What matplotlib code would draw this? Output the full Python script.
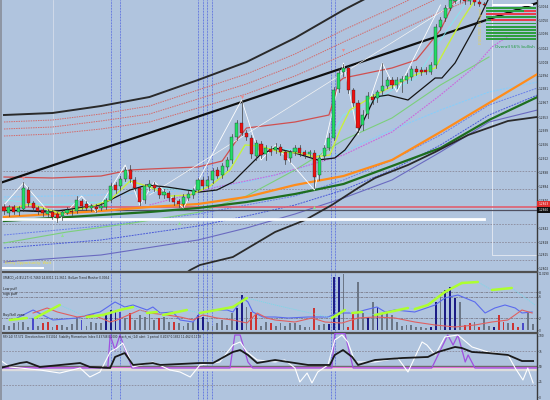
import numpy as np
import matplotlib
matplotlib.use("Agg")
import matplotlib.pyplot as plt
from matplotlib.patches import Rectangle

# ------------------------------------------------------------------ data
# candle prices in 1e-4 units (pips)
bar_open = [12863,12857,12863,12858,12861,12880,12867,12862,12860,12856,12858,12856,12854,12857,12859,12859,12869,12866,12862,12863,
            12862,12863,12870,12885,12884,12891,12900,12890,12882,12870,12883,12885,12882,12875,12877,12872,12869,12866,12872,12875,
            12880,12890,12884,12890,12900,12895,12903,12910,12933,12947,12937,12932,12914,12926,12916,12921,12920,12923,12918,12912,
            12918,12922,12918,12916,12917,12895,12914,12922,12932,12981,12998,13002,12980,12967,12945,12956,12973,12972,12979,12984,
            12990,12985,12988,12990,12993,13001,13000,13000,12998,13005,13043,13052,13062,13069,13075,13072,13069,13072,13068,13066]
bar_close = [12859,12863,12858,12862,12882,12867,12862,12859,12857,12859,12853,12852,12858,12860,12858,12870,12864,12862,12864,12861,
             12864,12870,12884,12880,12891,12900,12891,12882,12868,12884,12886,12882,12875,12878,12872,12868,12866,12873,12876,12880,
             12890,12884,12890,12899,12894,12904,12910,12933,12947,12937,12933,12916,12927,12915,12922,12918,12923,12918,12910,12918,
             12922,12917,12915,12918,12893,12912,12922,12932,12980,12997,13002,12980,12967,12942,12955,12974,12970,12978,12984,12990,
             12985,12990,12991,12994,13001,12998,12998,12998,13005,13043,13050,13062,13070,13075,13072,13069,13072,13068,13066,13065]
bar_high = [12866,12865,12865,12864,12888,12883,12869,12864,12862,12861,12860,12858,12860,12863,12861,12874,12871,12869,12866,12866,
            12867,12872,12887,12888,12894,12903,12905,12893,12884,12886,12890,12888,12884,12881,12879,12875,12871,12876,12879,12882,
            12892,12893,12894,12902,12903,12907,12913,12936,12950,12970,12940,12935,12930,12929,12925,12924,12927,12926,12920,12920,
            12925,12925,12920,12920,12920,12915,12925,12937,12983,13002,13006,13004,12982,12970,12960,12978,12976,12980,13007,12993,
            12993,12993,12994,12997,13004,13004,13003,13003,13008,13046,13053,13065,13073,13078,13078,13075,13074,13074,13070,13068]
bar_low = [12856,12854,12856,12855,12859,12864,12859,12856,12854,12853,12851,12848,12850,12856,12855,12857,12861,12860,12859,12858,
           12860,12861,12868,12877,12880,12889,12888,12880,12865,12867,12880,12879,12872,12872,12869,12865,12863,12863,12870,12872,
           12878,12881,12882,12887,12892,12892,12900,12907,12930,12935,12930,12912,12910,12912,12910,12915,12917,12915,12906,12908,
           12915,12914,12912,12913,12882,12890,12910,12920,12930,12978,12994,12977,12964,12938,12940,12952,12966,12968,12976,12982,
           12982,12982,12978,12987,12990,12995,12995,12996,12996,13002,13040,13049,13060,13067,13068,13066,13066,13065,13064,13063]

# overlay lines (x = bar number, y = price in pips)
env_up_x = [0, 10, 20, 30, 40, 50, 60, 70, 80, 90]
env_up_y = [12955, 12957, 12964, 12973, 12990, 13008, 13032, 13060, 13085, 13110]
red_dot1_y = [12948, 12950, 12956, 12964, 12980, 12996, 13016, 13040, 13062, 13085]
red_dot2_y = [12941, 12943, 12949, 12956, 12971, 12986, 13005, 13028, 13050, 13073]
red_dot3_x = [0, 10, 20, 30, 40, 50, 60, 70, 80, 90, 100]
red_dot3_y = [12934, 12936, 12941, 12948, 12962, 12976, 12994, 13015, 13036, 13058, 13078]
trend_x = [-0.82, 109.9]
trend_y = [12887, 13067]
bb_up_x = [0, 10, 20, 26, 30, 40, 45, 48, 50, 60, 67, 68, 69, 70, 80, 85, 90, 93, 96]
bb_up_y = [12893, 12892, 12894, 12900, 12901, 12903, 12909, 12930, 12942, 12948, 12955, 12970, 12988, 12992, 13002, 13010, 13040, 13070, 13090]
slow_x = [0, 10, 20, 30, 40, 50, 60, 70, 80, 90, 100, 110]
orange_y = [12853, 12856, 12859, 12863, 12866, 12873, 12885, 12894, 12910, 12938, 12967, 12996]
dkgreen_y = [12849, 12852, 12855, 12858, 12862, 12868, 12876, 12886, 12904, 12922, 12950, 12973]
blue_x = [0, 20, 40, 50, 60, 70, 80, 90, 100, 110]
blue1_y = [12873, 12875, 12880, 12888, 12900, 12918, 12940, 12960, 12978, 12988]
blue2_y = [12835, 12844, 12856, 12865, 12874, 12890, 12910, 12935, 12965, 12982]
blue3_y = [12822, 12830, 12844, 12854, 12865, 12880, 12900, 12925, 12955, 12975]
blue4_y = [12808, 12815, 12830, 12842, 12856, 12872, 12890, 12918, 12948, 12960]
env_lo_x = [30.1, 38.4, 40.4, 47.2, 55.9, 62.1, 67.6, 73.0, 76.5, 83.3, 88.9, 95.7, 103.9, 109.9]
env_lo_y = [12770, 12800, 12805, 12813, 12838, 12850, 12865, 12882, 12892, 12905, 12918, 12935, 12949, 12953]
ltgreen_x = [0, 13, 26.6, 40.4, 50, 60, 70, 80, 90, 100]
ltgreen_y = [12827, 12838, 12847, 12858, 12874, 12900, 12930, 12952, 12985, 13013]
magenta_x = [30, 43.9, 55.9, 70, 80, 90, 97, 100.6, 104.3]
magenta_y = [12865, 12883, 12895, 12915, 12938, 12975, 13003, 13023, 13035]
cyan_x = [0, 10, 20, 25, 30, 40, 45, 50, 55, 60, 65, 70, 75, 80, 85, 90, 95]
cyan_y = [12870, 12865, 12868, 12888, 12882, 12880, 12895, 12925, 12922, 12920, 12915, 12955, 12965, 12980, 12992, 13030, 13065]
zig_x = [0, 4, 11, 16, 19, 25, 28, 31, 37, 49, 53, 56, 64, 70, 73, 78, 81, 90]
zig_y = [12865, 12887, 12848, 12874, 12858, 12905, 12865, 12888, 12862, 12970, 12910, 12925, 12880, 13007, 12935, 13007, 12978, 13065]
lime_x = [0, 5.4, 11.5, 17.7, 21.9, 26, 30.1, 34.2, 38.4, 42.5, 46.6, 49.7, 52.8, 56.9, 61, 64.1, 67.2, 69.3, 71.3, 76.5, 84.7, 88.9, 91.5, 94.4, 97.1]
lime_y = [12860, 12866, 12857, 12863, 12870, 12889, 12883, 12874, 12875, 12884, 12900, 12925, 12924, 12918, 12917, 12913, 12915, 12940, 12960, 12975, 12995, 13002, 13025, 13050, 13070]
blk_x = [0, 9.5, 19.8, 26, 29.5, 33.6, 40.4, 43.9, 47.2, 50.1, 52.8, 55.9, 60, 64.7, 68.2, 70.3, 73, 76.5, 79.2, 83.3, 88.9, 90.3, 93, 97.1, 99.8]
blk_y = [12860, 12858, 12865, 12880, 12885, 12883, 12878, 12880, 12888, 12902, 12915, 12922, 12917, 12910, 12912, 12920, 12938, 12973, 12975, 12970, 12992, 12992, 13007, 13043, 13070]
white_tl_x = [30, 94]
white_tl_y = [12875, 13070]

level_red = 12863
level_price = 12860
level_white = 12851
dash_levels = [12899, 12881, 12846, 12828, 12810]
price_ticks = [13064, 13050, 13036, 13022, 13008, 12994, 12981, 12967, 12953, 12939, 12926, 12912, 12898, 12884, 12870, 12842, 12828, 12815, 12802]
vlines_blue = [22.1, 23.9, 40.0, 41.0, 41.9, 42.9, 67.4, 68.2]
down_arrows_x = [4, 49, 70]
down_arrows_y = [12892, 12973, 13020]
up_arrows_x = [12, 36, 64]
up_arrows_y = [12835, 12847, 12863]

# indicator 1 (histogram + lines)
hist_h = [5,4,7,8,8,3,12,4,7,8,3,5,5,3,6,13,10,4,8,7,7,17,20,20,18,12,17,10,15,13,17,10,12,13,8,8,7,4,7,8,
          15,13,8,4,7,10,5,17,22,35,23,18,17,4,8,7,4,7,4,7,7,5,3,3,22,5,6,6,53,53,56,3,17,48,17,13,28,23,17,17,
          15,8,4,5,5,3,3,2,3,28,35,40,43,32,28,5,7,8,3,12,4,3,15,8,7,7,3,7,17,6]
hist_c = "ggggggbgrrgrggggbggggnnnbgrgggggrggrgggg" \
         "nnggggggnngrrggrggggggggrggnnngrrggngngg" \
         "ggggggggnngnnngrrgrggnrrgrrb"
ind1_blue_x = [2.7,6.0,8.0,10.1,15.1,17.3,19.8,22.9,24.9,26.6,29.5,30.7,32.2,34.8,36.3,39.0,40.4,43.1,46.0,47.2,49.3,50.3,51.3,53.4,
               55.9,58.6,62.7,66.8,68.7,72.4,74.4,76.9,78.6,80.6,84.7,88.9,90.9,93.6,97.1,99.2,101.2,103.3,105.4,106.8,108.9]
ind1_blue_y = [12,20,15,10,12,15,18,28,23,25,20,23,17,18,10,8,17,20,20,18,32,28,18,13,13,12,13,13,17,17,20,23,18,20,18,25,32,35,28,17,22,25,22,17,18]
ind1_red_x = [6.0,8.9,11.0,15.1,18.4,21.9,23.3,26.6,28.0,30.1,33.6,36.3,39.0,41.0,43.9,47.2,50.1,52.2,54.2,55.9,60.0,63.5,66.2,69.7,
              73.0,76.5,80.6,84.7,88.9,93.0,97.1,100.6,103.9,106.8,108.9]
ind1_red_y = [17,22,18,13,15,8,10,17,20,17,15,13,10,15,12,10,7,17,12,10,8,12,8,7,12,13,12,8,5,3,5,8,10,20,17]
sig_x = [1.2,4.7,6.4,11.5,17.1,20.4,23.9,26.6,29.5,31.5,32.8,37.7,40.4,47.2,50.1,55.9,67.6,70.3,71.8,73.8,76.5,83.3,84.7,87.4,90.9,94.4,97.7,100.6,104.7,109.5]
sig_y = [10,12,12,25,13,15,20,23,17,18,15,20,17,23,32,25,12,20,17,18,15,22,21,25,38,47,48,40,42,25]
sig_lime = [1,0,1,0,1,1,1,0,1,0,1,0,1,1,0,0,1,0,1,0,1,0,1,1,1,1,0,1,0,0]

# indicator 2 (oscillators, 0..100)
osc_black_x = [-0.8,3.3,4.7,7.4,15.7,17.7,21.9,22.9,24.9,26.6,30.7,32.2,40.4,43.1,47.2,48.7,50.3,52.2,55.9,60.0,62.7,67.2,68.2,69.9,
               71.8,73.0,76.5,82.1,87.4,89.5,93.0,94.4,96.5,99.8,103.9,106.8,109.1]
osc_black_y = [47.5,55.7,57.4,49.2,55.7,49.2,47.5,65.6,72.1,52.5,55.7,52.5,55.7,55.7,73.8,77.0,68.9,55.7,60.7,55.7,52.5,52.5,68.9,77.0,
               65.6,52.5,60.7,63.9,65.6,73.8,82.0,80.3,73.8,72.1,68.9,59.0,59.0]
osc_white_x = [-0.8,1.2,3.3,7.4,11.5,15.7,17.7,19.8,21.9,23.3,24.5,25.6,26.6,30.7,34.2,36.3,38.4,40.4,44.5,47.2,48.7,50.1,52.2,55.9,
               57.9,60.0,61.0,62.5,63.5,64.7,66.8,68.2,69.7,70.9,72.4,76.5,81.2,83.3,86.2,87.2,88.9,90.9,93.6,96.5,99.8,103.9,105.4,
               107.0,108.0,109.1]
osc_white_y = [60.7,49.2,47.5,44.3,39.3,47.5,32.8,41.0,73.8,80.3,88.5,68.9,49.2,57.4,44.3,41.0,32.8,52.5,57.4,85.2,90.2,73.8,60.7,57.4,
               60.7,47.5,24.6,39.3,23.0,41.0,52.5,93.4,101.6,90.2,57.4,57.4,63.9,41.0,90.2,85.2,68.9,98.4,101.6,82.0,73.8,68.9,47.5,
               27.9,47.5,23.0]
osc_purple_x = [-0.8,21.4,21.9,22.9,23.9,26.4,46.6,47.6,48.7,50.3,51.3,67.6,68.2,70.3,72.0,88.2,91.5,92.6,93.6,95.1,95.7,97.1,109.9]
osc_purple_y = [47.5,47.5,101.6,77.0,101.6,47.5,47.5,101.6,101.6,57.4,47.5,47.5,104,104,47.5,47.5,101.6,85.2,101.6,57.4,68.9,47.5,47.5]

# strength table (fraction bullish per row)
strength_rows = [1.0, 0.75, 0.0, 1.0, 0.1, 1.0, 1.0, 1.0, 1.0, 1.0, 1.0]

# ------------------------------------------------------------------ figure
W, H = 550, 400
BG = "#B0C4DE"
fig = plt.figure(figsize=(W / 100, H / 100), dpi=100)
fig.patch.set_facecolor(BG)


def rect(x0, y0, x1, y1):
    return [x0 / W, 1 - y1 / H, (x1 - x0) / W, (y1 - y0) / H]


P = lambda v: np.asarray(v, dtype=float) / 1e4
XL = (-0.82, 109.9)
TFS = 2.1  # axis label font size

axm = fig.add_axes(rect(0, 0, 537, 271))
ax1 = fig.add_axes(rect(0, 272, 537, 332))
ax2 = fig.add_axes(rect(0, 333, 537, 400))

for a in (axm, ax1, ax2):
    a.set_facecolor(BG)
    a.set_xlim(*XL)
    a.set_xticks([])
    for s in ("left", "bottom"):
        a.spines[s].set_visible(False)
    a.spines["right"].set_color("#3a3a3a")
    a.spines["right"].set_linewidth(1.0)
    a.spines["top"].set_color("#505050")
    a.spines["top"].set_linewidth(1.6)
    a.yaxis.tick_right()
    a.tick_params(axis="y", length=1.0, width=0.4, pad=0.5, labelsize=TFS, colors="#202020")
    for xv in vlines_blue:
        a.axvline(xv, color="#3b4fe0", lw=0.55, ls=(0, (1, 1)), zorder=1)
axm.spines["top"].set_visible(False)

# ---------------- main panel
axm.set_ylim(12799 / 1e4, 13070 / 1e4)
axm.set_yticks(P(price_ticks))
axm.set_yticklabels([f"{v/1e4:.4f}" for v in price_ticks])
axm.axvline(10.1, color="#d4dcea", lw=0.6, zorder=1)
for lv in dash_levels:
    axm.axhline(lv / 1e4, color="#8a8a9a", lw=0.6, ls=(0, (2, 1.5)), zorder=1)
axm.plot([100.6, 100.6, 110], P([13070, 12815, 12815]), color="#dfe6f0", lw=0.7, zorder=1)

axm.plot(env_up_x, P(env_up_y), color="#2a2a2a", lw=1.4, zorder=3)
axm.plot(env_up_x, P(red_dot1_y), color="#d46a6a", lw=0.7, ls=(0, (1.5, 1)), zorder=2)
axm.plot(env_up_x, P(red_dot2_y), color="#d46a6a", lw=0.7, ls=(0, (1.5, 1)), zorder=2)
axm.plot(red_dot3_x, P(red_dot3_y), color="#d46a6a", lw=0.7, ls=(0, (1.5, 1)), zorder=2)
axm.plot(bb_up_x, P(bb_up_y), color="#d05050", lw=0.9, zorder=2)
axm.plot(blue_x, P(blue1_y), color="#87cefa", lw=0.8, ls=(0, (2, 1)), zorder=2)
axm.plot(blue_x, P(blue2_y), color="#6a7fe8", lw=0.7, ls=(0, (2, 1)), zorder=2)
axm.plot(blue_x, P(blue3_y), color="#4a5ad8", lw=0.7, ls=(0, (2, 1)), zorder=2)
axm.plot(blue_x, P(blue4_y), color="#6a6ac0", lw=0.8, zorder=2)
axm.plot(ltgreen_x, P(ltgreen_y), color="#7ccf7c", lw=0.8, zorder=2)
axm.plot(magenta_x, P(magenta_y), color="#cc66dd", lw=0.8, ls=(0, (1.5, 1)), zorder=2)
axm.plot(slow_x, P(orange_y), color="#ff8c1a", lw=1.6, zorder=3)
axm.plot(slow_x, P(dkgreen_y), color="#1e6e1e", lw=1.6, zorder=3)
axm.plot(env_lo_x, P(env_lo_y), color="#2a2a2a", lw=1.3, zorder=3)
axm.plot(trend_x, P(trend_y), color="#101010", lw=1.6, zorder=3)

axm.axhline(level_red / 1e4, color="#e06070", lw=1.2, zorder=2)
axm.axhline(level_price / 1e4, color="#505060", lw=0.9, zorder=2)
axm.plot([-0.82, 98.9], P([level_white, level_white]), color="white", lw=2.0, zorder=3)
axm.plot([-0.82, 8.0], P([12802, 12802]), color="white", lw=1.4, zorder=3)

axm.plot(white_tl_x, P(white_tl_y), color="#f4f4f4", lw=0.5, zorder=3)
axm.plot(cyan_x, P(cyan_y), color="#7fe8f0", lw=0.6, zorder=3)
axm.plot(zig_x, P(zig_y), color="white", lw=0.6, zorder=4)
axm.plot(blk_x, P(blk_y), color="#151515", lw=0.9, zorder=4)
axm.plot(lime_x, P(lime_y), color="#c8f03c", lw=1.0, zorder=4)

for i in range(len(bar_open)):
    o, c, h, l = bar_open[i] / 1e4, bar_close[i] / 1e4, bar_high[i] / 1e4, bar_low[i] / 1e4
    axm.plot([i, i], [l, h], color="#3c3c3c", lw=0.5, zorder=5)
    col = "#22dd66" if c >= o else "#ee1111"
    axm.add_patch(Rectangle((i - 0.32, min(o, c)), 0.64, max(abs(c - o), 0.00012),
                            facecolor=col, edgecolor="#202020", lw=0.25, zorder=6))

axm.scatter(down_arrows_x, P(down_arrows_y), marker="v", s=5, color="#f08a8a", zorder=7, linewidths=0)
axm.scatter(up_arrows_x, P(up_arrows_y), marker="^", s=5, color="#8fe08f", zorder=7, linewidths=0)

# strength table
axt = fig.add_axes(rect(486, 3, 536, 44))
axt.set_xlim(0, 1)
axt.set_ylim(len(strength_rows) + 0.5, -1.5)
axt.axis("off")
axt.barh([-1], [0.82], left=[0.12], height=0.6, color="white")
for r, f in enumerate(strength_rows):
    axt.barh([r], [f], height=0.62, color="#2e9e3e")
    axt.barh([r], [1 - f], left=[f], height=0.62, color="#e83c4c")
fig.text(535 / W, 1 - 47 / H, "Overall 56% bullish", fontsize=3.0, color="#1e9a3a", va="center", ha="right")
fig.text(481 / W, 1 - 26 / H, "EURUSD H4 Signal", fontsize=2.8, color="#e8d44d", rotation=90, va="center", ha="center")
fig.text(5 / W, 1 - 263 / H, "Entry Opportunity: Wait", fontsize=2.8, color="#f0e040", va="center")

# price boxes
fig.patches.append(Rectangle((537 / W, 1 - 207 / H), 13 / W, 6 / H, transform=fig.transFigure, facecolor="#e03030", edgecolor="none"))
fig.patches.append(Rectangle((537 / W, 1 - 213 / H), 13 / W, 6 / H, transform=fig.transFigure, facecolor="#101010", edgecolor="none"))
fig.text(543.5 / W, 1 - 204 / H, f"{level_red/1e4:.4f}", fontsize=TFS, color="white", ha="center", va="center")
fig.text(543.5 / W, 1 - 210 / H, f"{level_price/1e4:.4f}", fontsize=TFS, color="white", ha="center", va="center")

# ---------------- indicator 1
ax1.set_ylim(-2, 58)
ax1.set_yticks([38, 33, 12, 0])
ax1.set_yticklabels(["8", "6", "2", "0"])
for lv in (38, 33, 12):
    ax1.axhline(lv, color="#7a7a8a", lw=0.6, ls=(0, (3, 1, 1, 1)), zorder=1)
cmap = {"g": "#6b7686", "n": "#1c1c86", "b": "#4a4ac8", "r": "#cc3333"}
ax1.bar(range(len(hist_h)), hist_h, width=0.38, color=[cmap[c] for c in hist_c], zorder=2)
ax1.plot(ind1_blue_x, ind1_blue_y, color="#5a6aee", lw=0.8, zorder=3)
ax1.plot(ind1_red_x, ind1_red_y, color="#e06060", lw=0.8, zorder=3)
ax1.plot(sig_x, sig_y, color="#7ad8e8", lw=0.6, ls=(0, (1.5, 1)), zorder=3)
for k in range(len(sig_x) - 1):
    if sig_lime[k]:
        ax1.plot(sig_x[k:k + 2], sig_y[k:k + 2], color="#adff2f", lw=1.8, solid_capstyle="round", zorder=4)
ax1.text(-0.2, 55, "XMACD_v1(EU,27) 0.7460 14.8311 11.3611  Bollum Trend Monitor 0.0054",
         fontsize=2.1, color="#202020", va="top")
ax1.text(-0.2, 41, "Low puff", fontsize=2.3, color="#202020", va="center")
ax1.text(-0.2, 36, "high puff", fontsize=2.3, color="#202020", va="center")
ax1.text(-0.2, 15, "Buy/Sell zone", fontsize=2.3, color="#202020", va="center")
fig.text(538.5 / W, 1 - 274 / H, "11.0290", fontsize=1.9, color="#202020", va="center")

# ---------------- indicator 2
ax2.set_ylim(-4.9, 104.9)
ax2.set_yticks([100, 75, 50, 25, 0])
ax2.set_yticklabels(["100", "75", "50", "25", "0"])
for lv in (75, 20):
    ax2.axhline(lv, color="#8a8a9a", lw=0.6, ls=(0, (2, 1.5)), zorder=1)
ax2.axhline(51.5, color="#6a6a6a", lw=1.0, zorder=2)
ax2.axhline(45.5, color="#dcdcdc", lw=2.4, zorder=2)
ax2.axhline(48.8, color="#e070d8", lw=0.8, zorder=2)
ax2.plot(osc_purple_x, osc_purple_y, color="#a050e0", lw=0.9, zorder=3)
ax2.plot(osc_white_x, osc_white_y, color="white", lw=0.8, zorder=3)
ax2.plot(osc_black_x, osc_black_y, color="#1a1a1a", lw=1.3, zorder=4)
ax2.text(-0.2, 101, "RSI(14) 57.572  Direction force 0.51014  Stability Momentum Index 0.43748 0.0000  stoch_rsi_(14) alert  1 period  0.4037 0.1832 11.462 0.1178",
         fontsize=2.0, color="#202020", va="top")

fig.patches.append(Rectangle((0, 0), 2 / W, 1, transform=fig.transFigure, facecolor="#8e96a4", edgecolor="none"))

fig.savefig("out.png", dpi=100, facecolor=BG)
